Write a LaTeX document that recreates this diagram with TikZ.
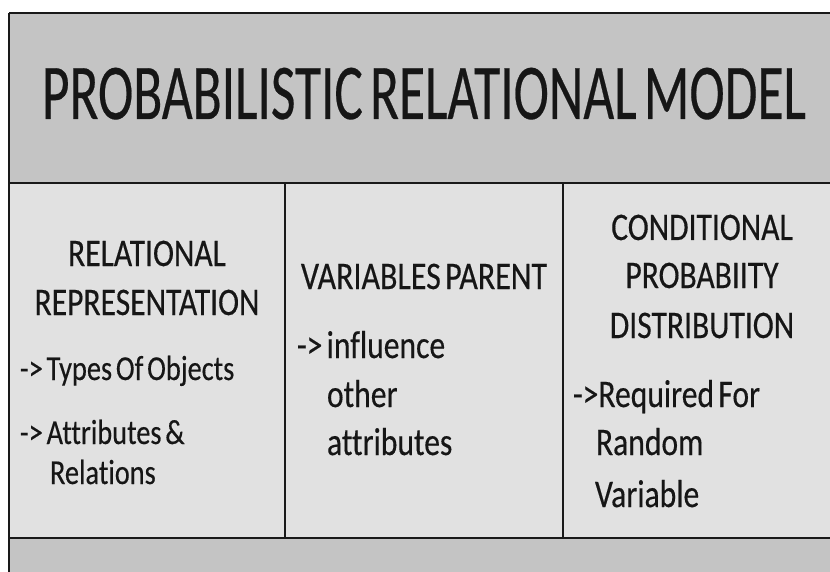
\documentclass[tikz,border=0pt]{standalone}
\usepackage{graphicx}
\usepackage{fontspec}
\setmainfont{Carlito}[WordSpace=0.6, Ligatures=NoCommon, FakeBold=0.4]
\definecolor{bandgray}{HTML}{C4C4C4}
\definecolor{panelgray}{HTML}{E1E1E1}
\definecolor{inkgray}{HTML}{161616}
\newcommand\narrowtext[2]{\scalebox{#1}[1]{#2}}
\tikzset{
  bodytext/.style={inner sep=0pt, outer sep=0pt, text=inkgray, font=\fontsize{39}{47}\selectfont},
  smalltext/.style={inner sep=0pt, outer sep=0pt, text=inkgray, font=\fontsize{35}{42}\selectfont},
  titletext/.style={inner sep=0pt, outer sep=0pt, text=inkgray, font=\fontsize{79}{90}\selectfont},
  frameline/.style={draw=black!90, line width=2.2pt},
}
\begin{document}
\begin{tikzpicture}[x=1pt, y=-1pt]
\useasboundingbox (0,0) rectangle (830,572);
\fill[white] (0,0) rectangle (830,572);
% title band, panel area and bottom band
\fill[bandgray] (9,13) rectangle (840,183);
\fill[panelgray] (9,183) rectangle (840,538);
\fill[bandgray] (9,538) rectangle (840,572);
% frame lines
\draw[frameline] (9,13) -- (840,13);
\draw[frameline] (9,13) -- (9,572);
\draw[frameline] (9,183) -- (840,183);
\draw[frameline] (9,538) -- (840,538);
\draw[frameline] (285,183) -- (285,538);
\draw[frameline] (563,183) -- (563,538);

% title
\node[titletext, anchor=base] (title) at (424,119) {\narrowtext{0.675}{PROBABILISTIC RELATIONAL MODEL}};

% left panel
\node[bodytext, anchor=base] (lrel) at (147,266) {\narrowtext{0.81}{RELATIONAL}};
\node[bodytext, anchor=base] (lrep) at (147,315) {\narrowtext{0.81}{REPRESENTATION}};
\node[smalltext, anchor=base west] (ltypes) at (20,380) {\narrowtext{0.81}{-> Types Of Objects}};
\node[smalltext, anchor=base west] (lattr) at (20,444) {\narrowtext{0.81}{-> Attributes \&}};
\node[smalltext, anchor=base west] (lrelations) at (50,484) {\narrowtext{0.81}{Relations}};

% middle panel
\node[bodytext, anchor=base] (mvar) at (424,289) {\narrowtext{0.82}{VARIABLES PARENT}};
\node[bodytext, anchor=base west] (minfl) at (297,358) {\narrowtext{0.81}{-> influence}};
\node[bodytext, anchor=base west] (mother) at (327,407) {\narrowtext{0.81}{other}};
\node[bodytext, anchor=base west] (mattr) at (327,455) {\narrowtext{0.81}{attributes}};

% right panel
\node[bodytext, anchor=base] (rcond) at (702,240) {\narrowtext{0.81}{CONDITIONAL}};
\node[bodytext, anchor=base] (rprob) at (702,288) {\narrowtext{0.81}{PROBABIITY}};
\node[bodytext, anchor=base] (rdist) at (702,338) {\narrowtext{0.81}{DISTRIBUTION}};
\node[bodytext, anchor=base west] (rreq) at (573,407) {\narrowtext{0.81}{->Required For}};
\node[bodytext, anchor=base west] (rrand) at (596,455) {\narrowtext{0.81}{Random}};
\node[bodytext, anchor=base west] (rvar) at (595,507) {\narrowtext{0.81}{Variable}};
\end{tikzpicture}
\end{document}
